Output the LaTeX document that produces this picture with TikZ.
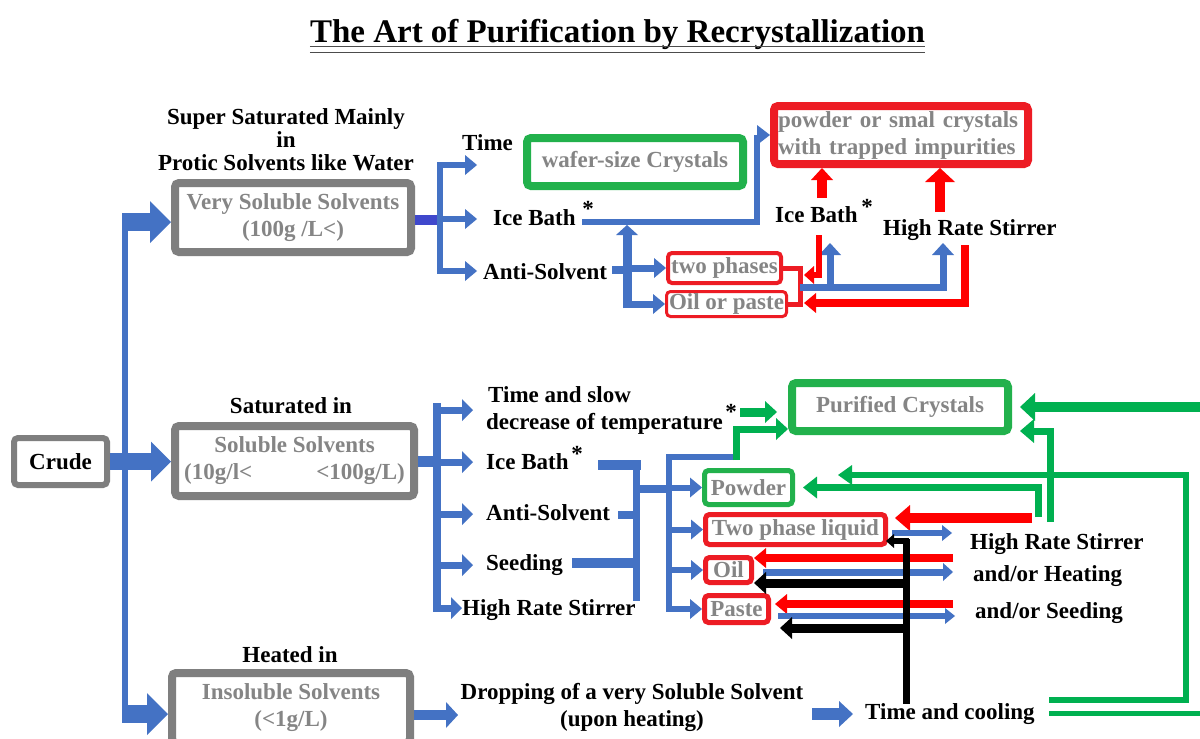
\documentclass[tikz,border=0pt]{standalone}
\usepackage{fontspec}
\setmainfont{Liberation Serif}
\usetikzlibrary{arrows.meta}
\definecolor{bfill}{HTML}{4472C4}
\definecolor{dkblue}{HTML}{3F48CC}
\definecolor{rarr}{HTML}{FF0000}
\definecolor{rbox}{HTML}{ED1C24}
\definecolor{garr}{HTML}{00B050}
\definecolor{gbox}{HTML}{22B14C}
\definecolor{bgray}{HTML}{7F7F7F}
\definecolor{tgray}{HTML}{858585}
\newcommand\mfont{\fontsize{23}{27}\selectfont\bfseries}
\begin{document}
\begin{tikzpicture}[x=1pt,y=-1pt,line join=miter,
  box/.style={rounded corners=4pt, inner sep=0pt, fill=white, font=\mfont, text=tgray, align=center},
  lbl/.style={inner sep=0pt, font=\mfont, text=black},
  ast/.style={inner sep=0pt, font=\mfont, text=black, anchor=north},
  ln/.style 2 args={draw=#1, line width=#2},
  hd/.style 2 args={-{Triangle[length=#1,width=#2,line width=0pt]}},
]
\useasboundingbox (0,0) rectangle (1200,739);
\clip (0,0) rectangle (1200,739);
\fill[white] (0,0) rectangle (1200,739);

% ---------- title ----------
\node[anchor=base, inner sep=0pt, font=\fontsize{33}{36}\selectfont\bfseries] (title) at (617.5,42) {The Art of Purification by Recrystallization};
\draw[line width=1.3pt, black!70] (title.west |- 0,46.5) -- (title.east |- 0,46.5);
\draw[line width=1.3pt, black!70] (title.west |- 0,52.5) -- (title.east |- 0,52.5);

% ---------- boxes ----------
\node[box, draw=bgray, line width=6pt, text=black, minimum width=93pt, minimum height=47pt] (cr) at (60.5,461.5) {Crude};
\node[box, draw=bgray, line width=8pt, minimum width=236pt, minimum height=69pt] (vs) at (293,217.5) {Very Soluble Solvents\\(100g /L<)};
\node[box, draw=bgray, line width=8pt, minimum width=239pt, minimum height=70pt] (ss) at (294.5,461) {Soluble Solvents\\(10g/l<\hspace{64pt}<100g/L)};
\node[box, draw=bgray, line width=8pt, minimum width=238pt, minimum height=70pt] (is) at (291,708) {Insoluble Solvents\\(<1g/L)};

\node[box, draw=gbox, line width=8pt, minimum width=216pt, minimum height=48pt] (wf) at (635,162) {wafer-size Crystals};
\node[box, draw=rbox, line width=8pt, minimum width=254pt, minimum height=58pt, align=left, text width=246pt] (pw) at (901,135) {powder or smal crystals\\with trapped impurities};
\node[box, draw=rbox, line width=4pt, minimum width=113pt, minimum height=30pt] (tp) at (724.5,268) {two phases};
\node[box, draw=rbox, line width=3pt, minimum width=120pt, minimum height=25pt] (op) at (726.5,304) {Oil or paste};

\node[box, draw=gbox, line width=8pt, minimum width=216pt, minimum height=48pt] (pc) at (900,407) {Purified Crystals};
\node[box, draw=gbox, line width=5pt, minimum width=88pt, minimum height=34pt] (pd) at (748.5,487.5) {Powder};
\node[box, draw=rbox, line width=5pt, minimum width=180pt, minimum height=30pt] (tl) at (795.5,529.5) {Two phase liquid};
\node[box, draw=rbox, line width=5pt, minimum width=46pt, minimum height=25pt] (ol) at (728.5,570) {Oil};
\node[box, draw=rbox, line width=5pt, minimum width=64pt, minimum height=27pt] (pa) at (736.5,609) {Paste};

% ---------- labels ----------
\node[inner sep=0pt, font=\fontsize{23}{23}\selectfont\bfseries, align=center] (ssm) at (286,140) {Super Saturated Mainly\\in\\Protic Solvents like Water};
\node[lbl, anchor=base] (satin) at (291,413) {Saturated in};
\node[lbl, anchor=base] (heatin) at (290,662) {Heated in};

\node[lbl, anchor=base west] (t1) at (462,150) {Time};
\node[lbl, anchor=base west] (ib1) at (493,225) {Ice Bath};
\node[lbl, anchor=base west] (as1) at (483,279) {Anti-Solvent};
\node[ast] (a1) at (588,201) {*};
\node[lbl, anchor=base west] (ib2) at (775,222) {Ice Bath};
\node[ast] (a2) at (867,199) {*};
\node[lbl, anchor=base west] (hr1) at (883,235) {High Rate Stirrer};

\node[lbl, anchor=base west] (ts1) at (488,402) {Time and slow};
\node[lbl, anchor=base west] (ts2) at (486,429) {decrease of temperature};
\node[ast] (a3) at (731,404) {*};
\node[lbl, anchor=base west] (ib3) at (486,469) {Ice Bath};
\node[ast] (a4) at (577,446) {*};
\node[lbl, anchor=base west] (as2) at (486,520) {Anti-Solvent};
\node[lbl, anchor=base west] (sd) at (486,570) {Seeding};
\node[lbl, anchor=base west] (hr2) at (462,615) {High Rate Stirrer};

\node[lbl, anchor=base west] (hr3) at (970,549) {High Rate Stirrer};
\node[lbl, anchor=base west] (heat) at (973,581) {and/or Heating};
\node[lbl, anchor=base west] (seed) at (975,618) {and/or Seeding};

\node[lbl, align=center] (drop) at (632,707) {Dropping of a very Soluble Solvent\\(upon heating)};
\node[lbl, anchor=base west] (tc) at (865,719) {Time and cooling};

% ---------- coordinates ----------
\coordinate (sp1) at (122,222);
\coordinate (sp3) at (122,714);
\coordinate (pcR) at ([xshift=8pt]pc.east);
\coordinate (pdR) at ([xshift=8pt]pd.east);
\coordinate (tlR) at ([xshift=7pt]tl.east);

% ---------- crude spine ----------
\draw[ln={bfill}{6pt}] (125,213) -- (125,723);
\draw[ln={bfill}{18pt}, hd={21pt}{42pt}] (sp1) -- (vs.west |- sp1);
\draw[ln={bfill}{17pt}, hd={20pt}{40pt}] (cr.east) -- (ss.west |- cr.east);
\draw[ln={bfill}{18pt}, hd={21pt}{42pt}] (sp3) -- (is.west |- sp3);

% ---------- top branch ----------
\draw[ln={dkblue}{10pt}] (vs.east |- 0,220) -- (443,220);
\draw[ln={bfill}{6pt}] (440,162) -- (440,274);
\draw[ln={bfill}{6pt}, hd={12pt}{20pt}] (437,165) -- (477,165);
\draw[ln={bfill}{6pt}, hd={12pt}{20pt}] (440,219) -- (477,219);
\draw[ln={bfill}{6pt}, hd={12pt}{20pt}] (437,271) -- (477,271);

\draw[ln={bfill}{6pt}, hd={13pt}{20pt}] (582,222) -| (757,135) -- (pw.west);

\draw[ln={bfill}{8pt}] (612,270) -- (627,270);
\draw[ln={bfill}{9pt}, hd={10pt}{22pt}] (627,308) -- (627,225);
\draw[ln={bfill}{7pt}, hd={12pt}{20pt}] (627,268) -- (tp.west);
\draw[ln={bfill}{7pt}, hd={12pt}{20pt}] (627,304) -- (op.west);

\draw[ln={rbox}{5pt}] (tp.east) -- (800,268) -- (800,304) -- (op.east);
\draw[ln={bfill}{7pt}, hd={12pt}{22pt}] (800,287) -| (943,243);
\draw[ln={bfill}{7pt}, hd={12pt}{22pt}] (830,287) -- (830,243);

\draw[ln={rarr}{6pt}, hd={10pt}{18pt}] (819,235) |- (804,275);
\draw[ln={rarr}{8pt}, hd={12pt}{20pt}] (965,245) |- (804,303);
\draw[ln={rarr}{10pt}, hd={12pt}{22pt}] (822,198) -- (pw.south -| 822,0);
\draw[ln={rarr}{10pt}, hd={14pt}{30pt}] (940,212) -- (pw.south -| 940,0);

% ---------- middle branch ----------
\draw[ln={bfill}{11pt}] (ss.east) -- (440,461);
\draw[ln={bfill}{8pt}] (437,403) -- (437,612);
\draw[ln={bfill}{7pt}, hd={11pt}{22pt}] (437,410) -- (473,410);
\draw[ln={bfill}{7pt}, hd={11pt}{22pt}] (437,462) -- (473,462);
\draw[ln={bfill}{7pt}, hd={11pt}{22pt}] (437,514) -- (473,514);
\draw[ln={bfill}{7pt}, hd={11pt}{22pt}] (437,565) -- (473,565);
\draw[ln={bfill}{7pt}, hd={11pt}{22pt}] (437,608) -- (hr2.west |- 0,608);

\draw[ln={bfill}{10pt}] (598,465) -- (641,465);
\draw[ln={bfill}{7pt}] (636,461) -- (636,601);
\draw[ln={bfill}{8pt}] (618,515) -- (636,515);
\draw[ln={bfill}{10pt}] (572,563) -- (636,563);
\draw[ln={bfill}{8pt}] (636,489) -- (669,489);
\draw[ln={bfill}{6pt}] (669,454) -- (669,612);
\draw[ln={bfill}{6pt}] (666,457) -- (737,457);
\draw[ln={bfill}{6pt}, hd={12pt}{20pt}] (669,0 |- pd.west) -- (pd.west);
\draw[ln={bfill}{6pt}, hd={12pt}{20pt}] (669,0 |- tl.west) -- (tl.west);
\draw[ln={bfill}{6pt}, hd={12pt}{20pt}] (669,0 |- ol.west) -- (ol.west);
\draw[ln={bfill}{6pt}, hd={12pt}{20pt}] (666,0 |- pa.west) -- (pa.west);

\draw[ln={garr}{7pt}, hd={12pt}{22pt}] (736,460) |- (pc.west |- 0,429);
\draw[ln={garr}{9pt}, hd={12pt}{22pt}] (740,412) -- (777,412);

% ---------- green returns ----------
\draw[ln={garr}{10pt}, hd={15pt}{28pt}] (1200,407) -- (pcR);
\draw[ln={garr}{7pt}, hd={14pt}{24pt}] (1050,522) |- (pcR |- 0,431);
\draw[ln={garr}{7pt}, hd={14pt}{22pt}] (1038,517) |- (pdR);
\draw[ln={garr}{6pt}, hd={14pt}{20pt}] (1049,700) -| (1186,475) -- (838,475);
\draw[ln={garr}{5pt}] (1049,713) -- (1200,713);

% ---------- right-hand arrows ----------
\draw[ln={rarr}{10pt}, hd={15pt}{26pt}] (1032,518) -- (tlR |- 0,518);
\draw[ln={bfill}{6pt}, hd={10pt}{16pt}] (892,533) -- (952,533);
\draw[ln={rarr}{8pt}, hd={12pt}{20pt}] (953,558) -- (ol.east |- 0,558);
\draw[ln={bfill}{7pt}, hd={10pt}{18pt}] (763,572) -- (953,572);
\draw[ln={rarr}{8pt}, hd={12pt}{20pt}] (953,604) -- (775,604);
\draw[ln={bfill}{6pt}, hd={10pt}{16pt}] (778,616) -- (955,616);
\draw[ln={black}{7pt}] (906,539) -- (906,704);
\draw[ln={black}{6pt}, hd={8pt}{14pt}] (909,541) -- (886,541);
\draw[ln={black}{9pt}, hd={12pt}{22pt}] (906,583) -- (ol.east |- 0,583);
\draw[ln={black}{9pt}, hd={12pt}{22pt}] (906,628) -- (780,628);

% ---------- bottom ----------
\draw[ln={bfill}{10pt}, hd={12pt}{26pt}] (is.east |- 0,715) -- (458,715);
\draw[ln={bfill}{12pt}, hd={14pt}{26pt}] (812,714) -- (853,714);
\end{tikzpicture}
\end{document}
